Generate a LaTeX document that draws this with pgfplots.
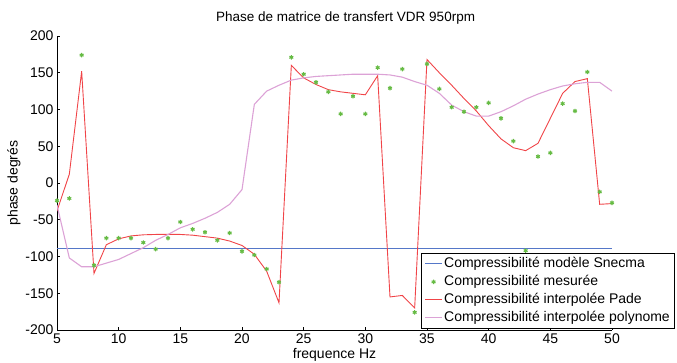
\documentclass[border=0pt]{standalone}
\usepackage{fontspec}
\setmainfont{Liberation Sans}
\usepackage{pgfplots}
\usepackage{pgfplotstable}
\pgfplotsset{compat=1.18}
\definecolor{cblue}{HTML}{5577C8}
\definecolor{cred}{HTML}{F04448}
\definecolor{cpink}{HTML}{DCA2D6}
\definecolor{cgreen}{HTML}{66BB44}

% mesures
\pgfplotstableread{
f phase
5 -24
6 -21
7 174
8 -112
9 -75
10 -75
11 -75
12 -81
13 -90
14 -75
15 -53
16 -63
17 -67
18 -78
19 -68
20 -93
21 -98
22 -117
23 -135
24 171
25 148
26 137
27 124
28 94
29 118
30 94
31 157
32 129
33 155
34 -176
35 162
36 128
37 103
38 97
39 103
40 109
41 88
42 57
43 -92
44 36
45 41
46 108
47 98
48 151
49 -12
50 -27
}\mesure

% interpolation Pade
\pgfplotstableread{
f phase
5 -38
6 12
7 152
8 -123
9 -84
10 -76
11 -72
12 -70.5
13 -70
14 -70
15 -70
16 -71
17 -73
18 -75
19 -79
20 -85
21 -97
22 -120
23 -163
24 160
25 143
26 134
27 127
28 124
29 122
30 120
31 146
32 -155
33 -153
34 -170
35 168
36 150
37 133
38 115
39 98
40 78
41 60
42 48
43 44
44 54
45 88
46 122
47 138
48 142
49 -29
50 -28
}\pade

% interpolation polynome
\pgfplotstableread{
f phase
5 -30
6 -102
7 -114
8 -114
9 -109
10 -104
11 -96
12 -88
13 -78
14 -70
15 -61
16 -55
17 -48
18 -40
19 -29
20 -9
21 107
22 125
23 133
24 140
25 143
26 145
27 146
28 147
29 148
30 148
31 148
32 147
33 144
34 138
35 133
36 122
37 106
38 97
39 91
40 91
41 97
42 105
43 114
44 121
45 127
46 132
47 135
48 137
49 137
50 125
}\poly

\begin{document}
\begin{tikzpicture}
\begin{axis}[
  at={(57pt,33pt)}, anchor=south west,
  scale only axis, width=555pt, height=294pt,
  xmin=5, xmax=50, ymin=-200, ymax=200,
  xtick={5,10,...,50}, ytick={-200,-150,...,200},
  axis lines*=left,
  axis line style={-, black, line width=0.8pt},
  tick align=inside, major tick length=3pt,
  tick style={black, line width=0.6pt},
  tick label style={font=\fontsize{14}{16}\selectfont},
  /pgf/number format/assume math mode=true,
  title={Phase de matrice de transfert VDR 950rpm},
  title style={font=\fontsize{13.5}{15}\selectfont, at={(rel axis cs:0.52,1)}, anchor=south, yshift=2pt},
  xlabel={frequence Hz},
  ylabel={phase degrés},
  label style={font=\fontsize{14}{16}\selectfont},
  xlabel style={yshift=2pt},
  ylabel style={yshift=-2pt},
  legend style={at={(0.656,0.262)}, anchor=north west, draw=black, line width=0.8pt,
    fill=white, font=\fontsize{14}{16}\selectfont,
    nodes={inner sep=1.5pt, text height=10.5pt, text depth=3.5pt},
    row sep=1pt},
  legend cell align=left,
]
\addplot[cblue, line width=1.1pt] coordinates {(5,-89) (50,-89)};
\addplot[cgreen, only marks, mark=asterisk, mark size=2.2pt, line width=1.1pt] table[x=f, y=phase] {\mesure};
\addplot[cred, line width=0.9pt] table[x=f, y=phase] {\pade};
\addplot[cpink, line width=1.1pt] table[x=f, y=phase] {\poly};
\legend{Compressibilité modèle Snecma, Compressibilité mesurée, Compressibilité interpolée Pade, Compressibilité interpolée polynome}
\end{axis}
\pgfresetboundingbox
\path[use as bounding box] (0,0) rectangle (677pt,363pt);
\end{tikzpicture}
\end{document}
